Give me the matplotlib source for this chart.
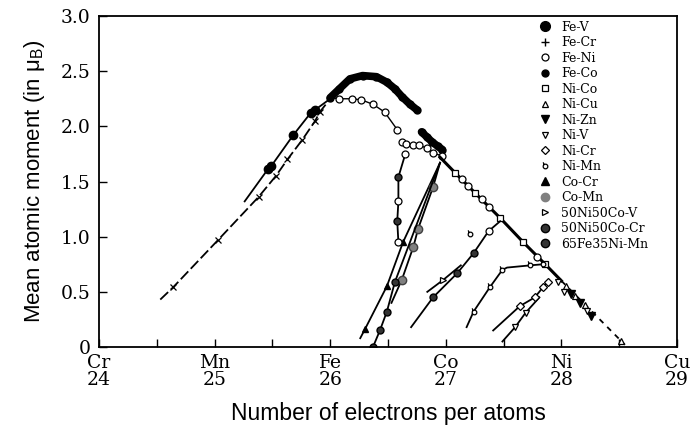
import matplotlib
matplotlib.use("Agg")
import matplotlib.pyplot as plt
from matplotlib.lines import Line2D
from matplotlib.path import Path

plt.rcParams['mathtext.fontset'] = 'custom'
plt.rcParams['mathtext.rm'] = 'Liberation Sans'

# axis ticks
xticks = [24, 25, 26, 27, 28, 29]
xticklabels = ['Cr\n24', 'Mn\n25', 'Fe\n26', 'Co\n27', 'Ni\n28', 'Cu\n29']
yticks = [0, 0.5, 1.0, 1.5, 2.0, 2.5, 3.0]
yticklabels = ['0', '0.5', '1.0', '1.5', '2.0', '2.5', '3.0']

# Fe-Cr (dashed, crosses)
fecr_x = [24.53, 24.64, 25.03, 25.38, 25.53, 25.63, 25.76, 25.87, 25.91, 26.0]
fecr_y = [0.43, 0.54, 0.97, 1.36, 1.55, 1.70, 1.88, 2.05, 2.13, 2.25]
# Fe-V
fev_x = [25.26, 25.46, 25.49, 25.68, 25.83, 25.87, 26.0]
fev_y = [1.32, 1.61, 1.64, 1.92, 2.12, 2.15, 2.25]
# Fe-Co (two dense parts)
feco_x = [26.0, 26.08, 26.17, 26.28, 26.40, 26.49, 26.56, 26.62, 26.69, 26.75]
feco_y = [2.26, 2.34, 2.43, 2.46, 2.45, 2.40, 2.34, 2.27, 2.20, 2.15]
feco2_x = [26.79, 26.84, 26.88, 26.93, 26.97]
feco2_y = [1.95, 1.90, 1.86, 1.82, 1.79]
# Fe-Ni
feni_x = [26.0, 26.08, 26.19, 26.27, 26.37, 26.47, 26.58]
feni_y = [2.26, 2.25, 2.25, 2.24, 2.20, 2.13, 1.97]
feni2_x = [26.62, 26.66, 26.72, 26.77, 26.84, 26.89, 26.97, 27.14, 27.19, 27.31, 27.37, 27.79]
feni2_y = [1.86, 1.84, 1.83, 1.83, 1.80, 1.76, 1.73, 1.52, 1.46, 1.34, 1.27, 0.82]
feni3_x = [26.65, 26.59, 26.59]
feni3_y = [1.75, 1.32, 0.95]
# Ni-Co branch
nico_x = [26.95, 27.08, 27.25, 27.47, 27.67, 27.86, 28.0]
nico_y = [1.72, 1.58, 1.40, 1.17, 0.95, 0.75, 0.60]
# dashed continuation beyond Ni
tail_x = [28.0, 28.55]
tail_y = [0.60, 0.02]
# Ni-Cu, Ni-Zn, Ni-V near Ni
nicu_x = [28.04, 28.12, 28.20, 28.52]
nicu_y = [0.55, 0.46, 0.38, 0.05]
nizn_x = [28.08, 28.16, 28.26]
nizn_y = [0.48, 0.40, 0.28]
niv_x = [27.97, 28.02, 28.22]
niv_y = [0.59, 0.50, 0.33]
# Ni-V line below Ni
niv2_x = [27.49, 27.60, 27.69, 27.81]
niv2_y = [0.05, 0.18, 0.31, 0.45]
# Ni-Cr
nicr_x = [27.41, 27.64, 27.77, 27.84, 27.88]
nicr_y = [0.15, 0.37, 0.45, 0.54, 0.59]
# Ni-Mn
nimn_x = [27.18, 27.24, 27.38, 27.49, 27.53, 27.73, 27.84]
nimn_y = [0.18, 0.32, 0.54, 0.70, 0.72, 0.74, 0.75]
nimn_pt_x = [27.21]
nimn_pt_y = [1.02]
# Co-Cr
cocr_x = [26.26, 26.30, 26.49, 26.63, 26.95]
cocr_y = [0.08, 0.16, 0.55, 0.95, 1.67]
# Co-Mn
comn_x = [26.53, 26.62, 26.72, 26.76, 26.89, 26.95]
comn_y = [0.40, 0.61, 0.91, 1.07, 1.45, 1.67]
# 65Fe35Ni-Mn
fenimn_x = [26.65, 26.59, 26.59, 26.58, 26.59]
fenimn_y = [1.75, 1.54, 1.32, 1.14, 0.95]
fenimn2_x = [26.37, 26.43, 26.49, 26.56, 26.95]
fenimn2_y = [0.0, 0.15, 0.32, 0.59, 1.67]
# 50Ni50Co-Cr and -V
nicocr_x = [26.70, 26.89, 27.10, 27.24, 27.37, 27.47]
nicocr_y = [0.18, 0.45, 0.67, 0.85, 1.05, 1.14]
nicov_x = [26.84, 26.98, 27.13]
nicov_y = [0.50, 0.61, 0.74]

labels = ['Fe-V', 'Fe-Cr', 'Fe-Ni', 'Fe-Co', 'Ni-Co', 'Ni-Cu', 'Ni-Zn', 'Ni-V',
          'Ni-Cr', 'Ni-Mn', 'Co-Cr', 'Co-Mn', '50Ni50Co-V', '50Ni50Co-Cr', '65Fe35Ni-Mn']

# Ni-Mn marker: open circle with a tail
nimn_marker = Path.make_compound_path(
    Path.unit_circle(),
    Path([(-0.6, 0.8), (-1.0, 1.8)], [Path.MOVETO, Path.LINETO]))

fig = plt.figure(figsize=(6.91, 4.33), dpi=100)
ax = fig.add_axes([0.1433, 0.1986, 0.8364, 0.7644])

k = 'black'
lw = 1.3
op = dict(mfc='white', mec=k, mew=0.9)

ax.plot(fecr_x, fecr_y, color=k, lw=lw, ls=(0, (6, 2)), marker='x', ms=4, mew=0.9, markevery=list(range(1, 9)))
ax.plot(fev_x, fev_y, color=k, lw=lw, marker='o', ms=6, markevery=list(range(1, 6)))
ax.plot(feco_x, feco_y, color=k, lw=5.5, marker='o', ms=5, solid_capstyle='round')
ax.plot(feco2_x, feco2_y, color=k, lw=5.5, marker='o', ms=5, solid_capstyle='round')
ax.plot(feni_x, feni_y, color=k, lw=1, marker='o', ms=5, markevery=list(range(1, 7)), **op)
ax.plot(feni2_x[:7], feni2_y[:7], color=k, lw=1, marker='o', ms=5, **op)
ax.plot(nico_x, nico_y, color=k, lw=2.2)
ax.plot(tail_x, tail_y, color=k, lw=lw, ls=(0, (3, 3)))
ax.plot(feni2_x[7:], feni2_y[7:], ls='none', marker='o', ms=5, **op)
ax.plot(nico_x[1:-1], nico_y[1:-1], ls='none', marker='s', ms=5, **op)
ax.plot(nicu_x, nicu_y, ls='none', marker='^', ms=5, **op)
ax.plot(nizn_x, nizn_y, ls='none', marker='v', ms=6, color=k)
ax.plot(niv_x, niv_y, ls='none', marker='v', ms=5, **op)
ax.plot(niv2_x, niv2_y, color=k, lw=lw, marker='v', ms=5, markevery=[1, 2], **op)
ax.plot(nicr_x, nicr_y, color=k, lw=lw, marker='D', ms=4, markevery=[1, 2, 3, 4], **op)
ax.plot(nimn_x, nimn_y, color=k, lw=lw, marker=nimn_marker, ms=6, markevery=[1, 2, 3, 5, 6], **op)
ax.plot(nimn_pt_x, nimn_pt_y, ls='none', marker=nimn_marker, ms=6, **op)
ax.plot(cocr_x, cocr_y, color=k, lw=lw, marker='^', ms=5, markevery=[1, 2, 3])
ax.plot(comn_x, comn_y, color=k, lw=lw, marker='o', ms=6, mfc='#808080', mec='#404040', markevery=[1, 2, 3, 4])
ax.plot(fenimn2_x, fenimn2_y, color=k, lw=lw, marker='o', ms=5, mfc='#333333', mec=k, markevery=[0, 1, 2, 3])
ax.plot(fenimn_x, fenimn_y, color=k, lw=lw, marker='o', ms=5, mfc='#333333', mec=k, markevery=[1, 3])
ax.plot(feni3_x, feni3_y, ls='none', marker='o', ms=5, **op)
ax.plot(nicov_x, nicov_y, color=k, lw=lw, marker='>', ms=4, markevery=[1], **op)
ax.plot(nicocr_x, nicocr_y, color=k, lw=lw, marker='o', ms=5, mfc='#333333', mec=k, markevery=[1, 2, 3])
ax.plot(nicocr_x[4:5], nicocr_y[4:5], ls='none', marker='o', ms=5, **op)

# legend
gray = '#808080'
handles = [
    Line2D([], [], ls='none', marker='o', ms=7, color=k),
    Line2D([], [], ls='none', marker='+', ms=6, color=k),
    Line2D([], [], ls='none', marker='o', ms=5, **op),
    Line2D([], [], ls='none', marker='o', ms=5, color=k),
    Line2D([], [], ls='none', marker='s', ms=5, **op),
    Line2D([], [], ls='none', marker='^', ms=5, **op),
    Line2D([], [], ls='none', marker='v', ms=6, color=k),
    Line2D([], [], ls='none', marker='v', ms=5, **op),
    Line2D([], [], ls='none', marker='D', ms=4, **op),
    Line2D([], [], ls='none', marker=nimn_marker, ms=6, **op),
    Line2D([], [], ls='none', marker='^', ms=6, color=k),
    Line2D([], [], ls='none', marker='o', ms=6, mfc=gray, mec=gray),
    Line2D([], [], ls='none', marker='>', ms=5, **op),
    Line2D([], [], ls='none', marker='o', ms=6, mfc='#333333', mec=k),
    Line2D([], [], ls='none', marker='o', ms=6, mfc='#333333', mec=k),
]
ax.legend(handles, labels, loc='upper right', bbox_to_anchor=(0.965, 1.012), frameon=False,
          prop={'family': 'DejaVu Serif', 'size': 9}, labelspacing=0.2,
          handlelength=1.0, handletextpad=0.8, borderaxespad=0.3)

ax.set_xlim(24, 29)
ax.set_ylim(0, 3.0)
ax.set_xticks(xticks)
ax.set_xticklabels(xticklabels, family='DejaVu Serif', fontsize=13.5, linespacing=0.9)
ax.set_xticks([24.5, 25.5, 26.5, 27.5, 28.5], minor=True)
ax.set_yticks(yticks)
ax.set_yticklabels(yticklabels, family='DejaVu Serif', fontsize=13.5)
ax.tick_params(axis='both', which='both', direction='in', length=6, width=1.0)
ax.tick_params(axis='x', pad=5)
ax.tick_params(axis='y', pad=6)
for s in ax.spines.values():
    s.set_linewidth(1.3)

ax.set_xlabel('Number of electrons per atoms', family='Liberation Sans', fontsize=16.5, labelpad=10)
ax.set_ylabel('Mean atomic moment (in μ$_\\mathrm{B}$)', family='Liberation Sans', fontsize=16, labelpad=10)

fig.savefig('out.png', dpi=100)
